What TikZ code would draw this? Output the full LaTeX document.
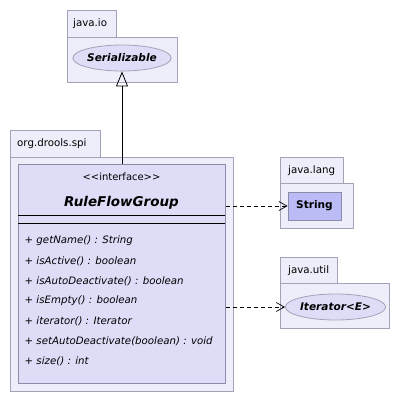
\documentclass[tikz,border=0pt]{standalone}
\usepackage{fontspec}
\setmainfont{DejaVu Sans}
\usetikzlibrary{arrows.meta,shapes.geometric}
\definecolor{pkgfill}{HTML}{EEEEFA}
\definecolor{pkgdraw}{HTML}{A3A3B8}
\definecolor{clsfill}{HTML}{DDDDF8}
\definecolor{strfill}{HTML}{BBBBF5}
\definecolor{clsdraw}{HTML}{8C8CA8}
\tikzset{
  pkg/.style={draw=pkgdraw, fill=pkgfill, line width=0.8bp},
  tabtxt/.style={anchor=west, font=\fontsize{10.3}{12}\selectfont, inner sep=0pt},
  meth/.style={anchor=west, font=\fontsize{10.25}{12}\selectfont\itshape, inner sep=0pt},
  dep/.style={dashed, dash pattern=on 4bp off 3bp, -{Straight Barb[length=8bp,width=9bp]}, line width=0.7bp},
}
\begin{document}
\begin{tikzpicture}[x=1bp,y=-1bp]
\useasboundingbox (0,0) rectangle (401,403);
\fill[white] (0,0) rectangle (401,403);
% java.io
\draw[pkg] (67,10) rectangle (116,37);
\draw[pkg] (67,37) rectangle (177,82);
\node[tabtxt] (tio) at (73,24) {java.io};
\node[ellipse, draw=pkgdraw, fill=clsfill, line width=0.8bp, minimum width=94bp, minimum height=26bp, inner sep=0pt, font=\fontsize{10.6}{12}\selectfont\bfseries\itshape] (ser) at (122,58) {Serializable};
% org.drools.spi
\draw[pkg] (10,130) rectangle (100,157);
\draw[pkg] (10,157) rectangle (233,391);
\node[tabtxt] (tspi) at (17,144) {org.drools.spi};
\node[draw=clsdraw, fill=clsfill, line width=0.8bp, minimum width=207bp, minimum height=219bp, inner sep=0pt, anchor=north west] (cls) at (18,164) {};
\node[font=\fontsize{10}{12}\selectfont, inner sep=0pt] (st) at (121.5,177) {<\kern0pt<interface>\kern0pt>};
\node[font=\fontsize{13.5}{16}\selectfont\bfseries\itshape, inner sep=0pt] (cname) at (121.5,203) {RuleFlowGroup};
\draw[line width=0.8bp] (18,215.5) -- (225,215.5);
\draw[line width=0.8bp] (18,223.5) -- (225,223.5);
\node[meth] (m1) at (24.5,241) {+ getName() : String};
\node[meth] (m2) at (24.5,261) {+ isActive() : boolean};
\node[meth] (m3) at (24.5,281) {+ isAutoDeactivate() : boolean};
\node[meth] (m4) at (24.5,301) {+ isEmpty() : boolean};
\node[meth] (m5) at (24.5,321) {+ iterator() : Iterator};
\node[meth] (m6) at (24.5,341) {+ setAutoDeactivate(boolean) : void};
\node[meth] (m7) at (24.5,361) {+ size() : int};
% java.lang
\draw[pkg] (280,157) rectangle (343,183);
\draw[pkg] (280,183) rectangle (353,228);
\node[tabtxt] (tlang) at (288,171) {java.lang};
\node[draw=clsdraw, fill=strfill, line width=0.8bp, minimum width=53bp, minimum height=28bp, inner sep=0pt, font=\fontsize{10.6}{12}\selectfont\bfseries] (str) at (314.5,206) {String};
% java.util
\draw[pkg] (280,257) rectangle (337,283);
\draw[pkg] (280,283) rectangle (389,328);
\node[tabtxt] (tutil) at (288,271) {java.util};
\node[ellipse, draw=pkgdraw, fill=clsfill, line width=0.8bp, minimum width=95bp, minimum height=26bp, inner sep=0pt, font=\fontsize{10.6}{12}\selectfont\bfseries\itshape] (iter) at (335.5,307) {Iterator<E>};
% connectors
\draw[line width=0.8bp, -{Triangle[open,length=15bp,width=12bp]}] (cls.north -| ser.south) -- (ser.south);
\draw[dep] (cls.east |- str.west) -- (str.west);
\draw[dep] (cls.east |- iter.west) -- (iter.west);
\end{tikzpicture}
\end{document}
